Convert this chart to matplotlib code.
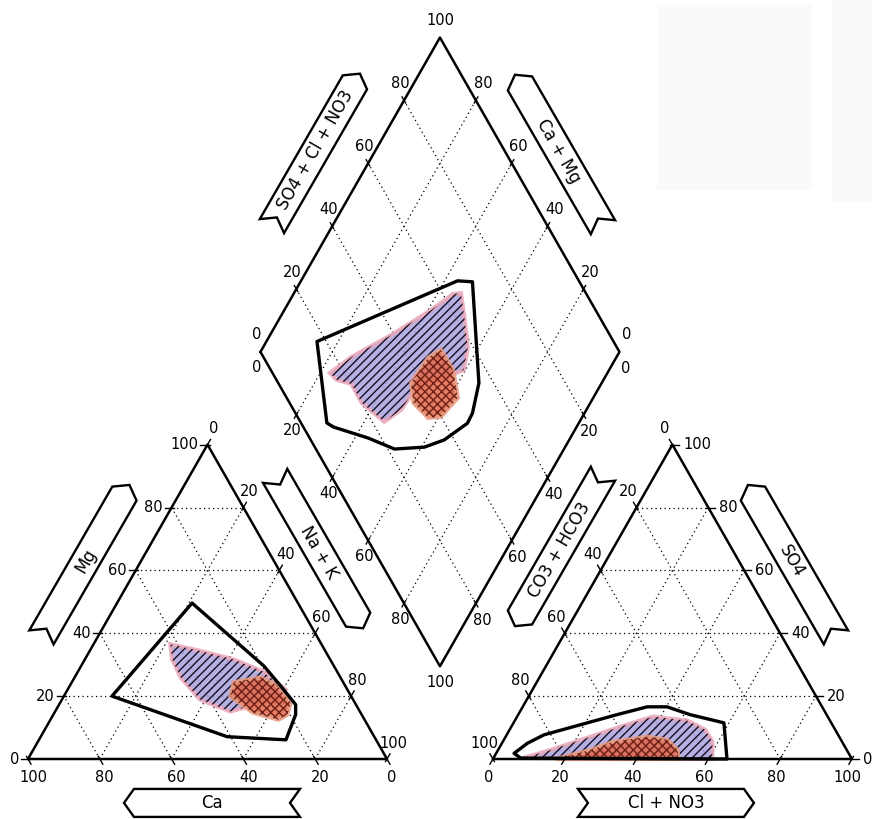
import numpy as np
import matplotlib.pyplot as plt
from matplotlib.patches import Polygon, Rectangle

plt.rcParams['hatch.linewidth'] = 1.0

ticks = [0, 20, 40, 60, 80, 100]

# triangulo de cationes: Na+K (%) y Mg (%)
cat_env_na = [20.9, 50.9, 58.8, 65.9, 67.5, 68.8, 51.9, 13.4]
cat_env_mg = [49.6, 29.6, 23.2, 17.3, 14.1, 6.1, 7.1, 20.0]
cat_azul_na = [21.4, 29.9, 41.4, 51.4, 60.7, 60.9, 54.7, 48.8, 38.5, 29.5, 24.3]
cat_azul_mg = [36.5, 34.6, 31.7, 27.9, 22.1, 18.9, 17.3, 15.1, 18.9, 26.0, 31.7]
cat_rojo_na = [45.1, 51.8, 57.6, 64.2, 65.2, 63.5, 55.4, 46.4]
cat_rojo_mg = [24.4, 26.0, 23.4, 17.9, 14.1, 12.5, 14.7, 19.9]

# triangulo de aniones: Cl+NO3 (%) y SO4 (%)
an_env_cl = [5.0, 7.1, 10.4, 27.5, 34.7, 40.2, 47.9, 58.6, 65.2, 7.6]
an_env_so4 = [1.8, 5.0, 7.7, 14.1, 16.6, 16.6, 14.1, 11.5, 0.0, 0.3]
an_azul_cl = [8.2, 14.7, 23.7, 30.4, 37.9, 48.1, 54.5, 58.4, 61.1]
an_azul_so4 = [0.3, 2.9, 7.1, 10.3, 13.5, 12.2, 9.3, 5.5, 0.0]
an_rojo_cl = [17.5, 25.8, 30.9, 39.6, 45.5, 50.0, 51.7]
an_rojo_so4 = [0.0, 2.9, 5.5, 7.1, 6.1, 2.9, 0.0]

# rombo: Na+K (%) y SO4+Cl+NO3 (%)
rom_env_na = [14.1, 43.6, 47.9, 65.8, 68.8, 69.0, 65.2, 60.8, 52.8, 43.7, 32.3, 29.8]
rom_env_s = [17.4, 66.2, 70.2, 55.9, 49.3, 46.3, 37.2, 30.5, 21.9, 16.3, 8.4, 7.2]
rom_azul_na = [22.7, 26.2, 33.8, 40.9, 44.4, 46.5, 51.8, 57.0, 59.5, 54.7, 50.0,
               48.8, 48.4, 45.6, 36.3, 30.5, 25.7]
rom_azul_s = [16.0, 24.6, 39.2, 54.2, 62.8, 65.2, 62.0, 58.5, 53.8, 45.9, 39.5,
              35.2, 30.0, 23.4, 20.1, 20.3, 16.8]
rom_rojo_na = [47.6, 50.0, 56.5, 62.3, 60.6, 57.2, 50.7, 46.9]
rom_rojo_s = [45.8, 50.6, 50.8, 47.7, 40.0, 36.2, 34.5, 37.1]

# ---- geometria ----
R3 = np.sqrt(3) / 2
GAP = 29.5
X_AN = 100 + GAP
DX0, DY0 = 100 + GAP / 2, GAP / 2 * np.sqrt(3)
SX, SY = 3.59, 3.63   # pixeles por unidad
FS = 10.5


def p_cat(na, mg):
    na, mg = np.asarray(na, float), np.asarray(mg, float)
    return na + mg / 2, mg * R3


def p_an(cl, so4):
    cl, so4 = np.asarray(cl, float), np.asarray(so4, float)
    return X_AN + cl + so4 / 2, so4 * R3


def p_rom(na, s):
    na, s = np.asarray(na, float), np.asarray(s, float)
    return DX0 - 50 + 0.5 * s + 0.5 * na, DY0 + 100 * R3 + R3 * s - R3 * na


fig = plt.figure(figsize=(8.72, 8.19), dpi=100)
ax = fig.add_axes([0, 0, 1, 1])
ax.set_xlim(-28 / SX, (872 - 28) / SX)
ax.set_ylim(-(819 - 759) / SY, 759 / SY)
ax.axis('off')

# manchas grises del escaneo (arriba a la derecha)
fig.patches.append(Rectangle((0.753, 0.768), 0.178, 0.226, transform=fig.transFigure,
                             fc='#fafafa', ec='none', zorder=0))
fig.patches.append(Rectangle((0.954, 0.753), 0.046, 0.247, transform=fig.transFigure,
                             fc='#fafafa', ec='none', zorder=0))


def linea(p, q, **kw):
    ax.plot([p[0], q[0]], [p[1], q[1]], **kw)


grid_kw = dict(color='k', lw=0.9, ls=(0, (1, 2.6)), zorder=1)
marco_kw = dict(color='k', lw=1.8, zorder=4, solid_capstyle='round')

for v in [20, 40, 60, 80]:
    linea(p_cat(0, v), p_cat(100 - v, v), **grid_kw)
    linea(p_cat(v, 0), p_cat(v, 100 - v), **grid_kw)
    linea(p_cat(100 - v, 0), p_cat(0, 100 - v), **grid_kw)
    linea(p_an(0, v), p_an(100 - v, v), **grid_kw)
    linea(p_an(v, 0), p_an(v, 100 - v), **grid_kw)
    linea(p_an(100 - v, 0), p_an(0, 100 - v), **grid_kw)
    linea(p_rom(0, v), p_rom(100, v), **grid_kw)
    linea(p_rom(v, 0), p_rom(v, 100), **grid_kw)

for f, esq in [(p_cat, [(0, 0), (100, 0), (0, 100), (0, 0)]),
               (p_an, [(0, 0), (100, 0), (0, 100), (0, 0)]),
               (p_rom, [(0, 0), (0, 100), (100, 100), (100, 0), (0, 0)])]:
    xs, ys = f([e[0] for e in esq], [e[1] for e in esq])
    ax.plot(xs, ys, **marco_kw)


def marca(p, d, l1=-3, l2=6):
    x, y = p
    ax.plot([x + l1 * d[0] / SX, x + l2 * d[0] / SX],
            [y + l1 * d[1] / SY, y + l2 * d[1] / SY], color='k', lw=1.0, zorder=4)


def rotulo(p, txt, dx, dy, ha='center'):
    ax.annotate(txt, (float(p[0]), float(p[1])), xytext=(dx * 0.72, -dy * 0.72),
                textcoords='offset points', ha=ha, va='center', fontsize=FS)


for v in ticks:
    t = str(v)
    # cationes
    p = p_cat(100 - v, 0); marca(p, (0.5, -R3)); rotulo(p, t, 5, 19)
    p = p_cat(0, v); marca(p, (-1, 0), -2, 7); rotulo(p, t, -9, 0, 'right')
    p = p_cat(v, 100 - v); marca(p, (0.5, R3)); rotulo(p, t, 6, -16)
    # aniones
    p = p_an(v, 0); marca(p, (-0.5, -R3)); rotulo(p, t, -4, 19)
    p = p_an(0, 100 - v); marca(p, (-0.5, R3)); rotulo(p, t, -8, -16)
    p = p_an(100 - v, v); marca(p, (1, 0), -2, 7); rotulo(p, t, 11, 0, 'left')
    # rombo
    p = p_rom(0, v); rotulo(p, t, 0 if v == 100 else -4, -17)
    p = p_rom(v, 0); rotulo(p, t, 0 if v == 100 else -4, 16)
    if v < 100:
        rotulo(p_rom(100 - v, 100), t, 7, -17)
        rotulo(p_rom(100, 100 - v), t, 6, 17)
    if 0 < v < 100:
        marca(p_rom(0, v), (-0.5, R3), -3, 4)
        marca(p_rom(100 - v, 100), (0.5, R3), -3, 4)
        marca(p_rom(v, 0), (-0.5, -R3), -3, 4)
        marca(p_rom(100, 100 - v), (0.5, -R3), -3, 4)


def zona(xy, fc, hatch, hc, ec, z):
    xy = np.column_stack(xy)
    ax.add_patch(Polygon(xy, closed=True, fc=fc, ec=ec, lw=3, alpha=0.85, zorder=z))
    ax.add_patch(Polygon(xy, closed=True, fc='none', ec=hc, lw=0, hatch=hatch, zorder=z + 0.1))


def contorno(xy):
    ax.add_patch(Polygon(np.column_stack(xy), closed=True, fill=False, ec='k',
                         lw=2.4, joinstyle='round', zorder=6))


azul = dict(fc='#a8a2dc', hatch='////', hc='#141024', ec='#e8a6b8')
rojo = dict(fc='#e0684a', hatch='xxxx', hc='#6e2014', ec='#e89a80')

zona(p_cat(cat_azul_na, cat_azul_mg), z=2, **azul)
zona(p_cat(cat_rojo_na, cat_rojo_mg), z=3, **rojo)
contorno(p_cat(cat_env_na, cat_env_mg))

zona(p_an(an_azul_cl, an_azul_so4), z=2, **azul)
zona(p_an(an_rojo_cl, an_rojo_so4), z=3, **rojo)
contorno(p_an(an_env_cl, an_env_so4))

zona(p_rom(rom_azul_na, rom_azul_s), z=2, **azul)
zona(p_rom(rom_rojo_na, rom_rojo_s), z=3, **rojo)
contorno(p_rom(rom_env_na, rom_env_s))


# ---- cajas de titulo (flechas) ----
def caja(cx, cy, ang, txt, cabeza=1, largo=176, ancho=28, punta=10):
    a = np.radians(ang)
    u = np.array([np.cos(a), np.sin(a)])
    w = np.array([-np.sin(a), np.cos(a)])
    hl, hw = largo / 2, ancho / 2
    loc = [(hl - punta, hw), (hl, 0), (hl - punta, -hw), (-hl, -hw), (-hl + punta, 0), (-hl, hw)]
    pts = []
    for pa, pq in loc:
        d = cabeza * pa * u + pq * w
        pts.append((cx + d[0] / SX, cy + d[1] / SY))
    ax.add_patch(Polygon(pts, closed=True, fill=False, ec='k', lw=1.7, zorder=4))
    ax.text(cx, cy, txt, rotation=ang, rotation_mode='anchor', ha='center', va='center',
            fontsize=12)


caja(51.25, -12.1, 0, 'Ca', -1)
caja(177.7, -12.1, 0, 'Cl + NO3', 1)
caja(16.0, 54.5, 60, 'Mg', 1)
caja(81.1, 57.0, -60, 'Na + K', 1)
caja(80.2, 167.8, 60, 'SO4 + Cl + NO3', 1)
caja(147.9, 167.5, -60, 'Ca + Mg', -1)
caja(147.9, 57.6, 60, 'CO3 + HCO3', -1)
caja(212.8, 54.5, -60, 'SO4', -1)

fig.savefig('out.png', dpi=100)
